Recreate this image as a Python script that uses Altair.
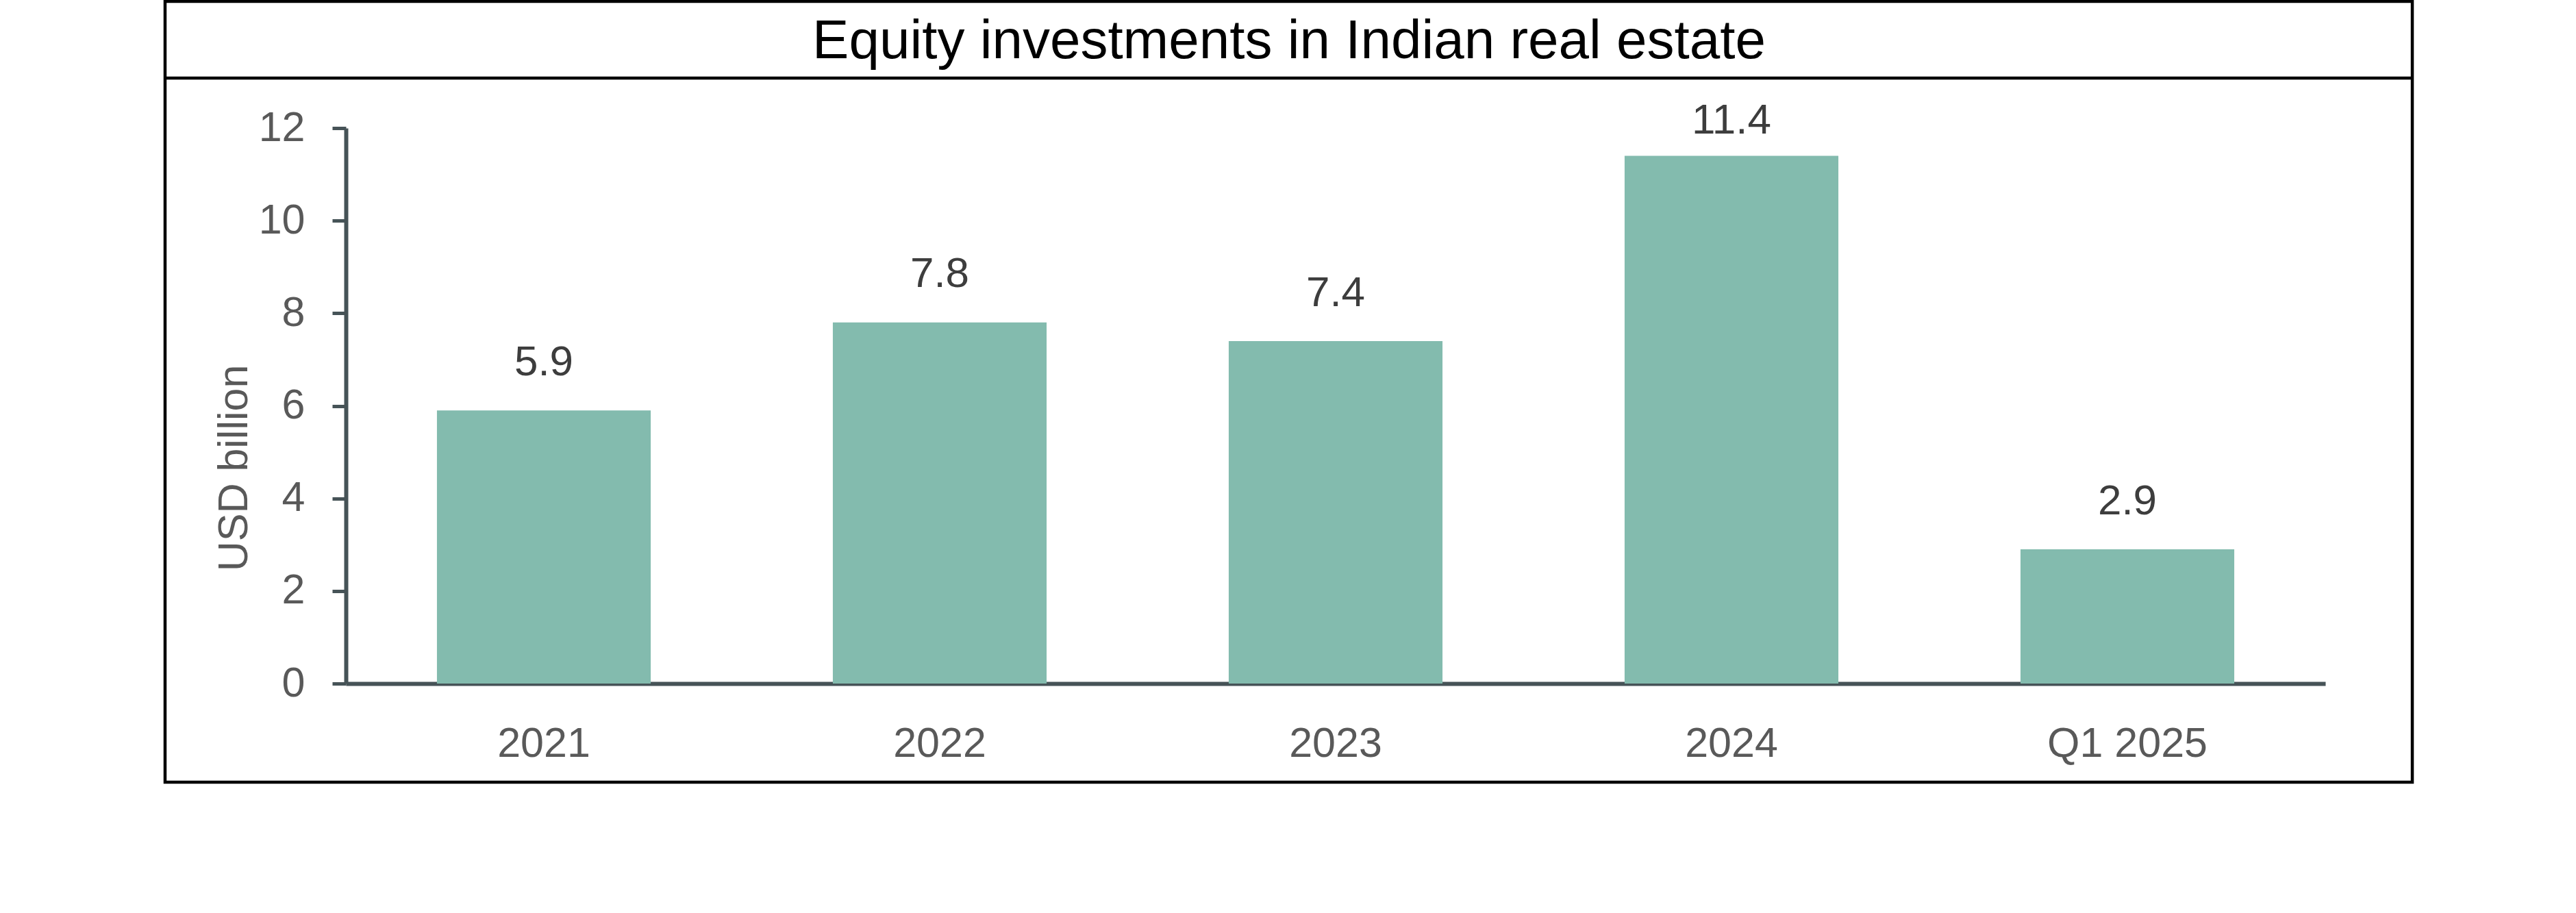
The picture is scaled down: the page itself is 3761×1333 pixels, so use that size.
import altair as alt
import pandas as pd

# ---- data ----
periods = ["2021", "2022", "2023", "2024", "Q1 2025"]
values = [5.9, 7.8, 7.4, 11.4, 2.9]
y_ticks = [0, 2, 4, 6, 8, 10, 12]
TITLE = "Equity investments in Indian real estate"
Y_TITLE = "USD billion"

df = pd.DataFrame({"period": periods, "value": values})

FONT = "Liberation Sans"
BAR = "#83BBAE"
AXIS = "#465357"
TICK_TXT = "#595959"
LBL_TXT = "#3d3d3d"

W, H = 2890, 811
PAD_L, PAD_T = 505, 187

x_enc = alt.X(
    "period:N",
    sort=periods,
    scale=alt.Scale(paddingInner=0.46, paddingOuter=0.23),
    axis=alt.Axis(
        title=None,
        ticks=False,
        tickSize=0,
        labelAngle=0,
        labelLimit=0,
        labelPadding=58,
        labelBaseline="top",
    ),
)

y_scale = alt.Scale(domain=[0, 12], nice=False)

bars = alt.Chart(df).mark_bar(color=BAR).encode(
    x=x_enc,
    y=alt.Y(
        "value:Q",
        scale=y_scale,
        axis=alt.Axis(
            title=Y_TITLE,
            values=y_ticks,
            format="d",
            grid=False,
            tickSize=20,
            labelPadding=40,
            titleAngle=270,
            titleBaseline="middle",
            titleAlign="center",
            titleX=-163,
            titleY=496,
        ),
    ),
)

labels = (
    alt.Chart(df)
    .transform_calculate(lab_pos="min(datum.value + 0.76, 11.88)")
    .mark_text(font=FONT, fontSize=62, color=LBL_TXT, baseline="alphabetic", align="center")
    .encode(
        x=alt.X("period:N", sort=periods),
        y=alt.Y("lab_pos:Q", scale=y_scale),
        text=alt.Text("value:Q", format=".1f"),
    )
)

one = alt.Data(values=[{"k": 1}])

frame = alt.Chart(one).mark_rect(filled=False, stroke="black", strokeWidth=4.5).encode(
    x=alt.value(241 - PAD_L),
    x2=alt.value(3522 - PAD_L),
    y=alt.value(2 - PAD_T),
    y2=alt.value(1142 - PAD_T),
)

sep = alt.Chart(one).mark_rule(color="black", strokeWidth=4.5).encode(
    x=alt.value(241 - PAD_L),
    x2=alt.value(3522 - PAD_L),
    y=alt.value(114 - PAD_T),
)

title = alt.Chart(one).mark_text(
    font=FONT, fontSize=80, color="black", align="center", baseline="alphabetic"
).encode(
    x=alt.value(1882 - PAD_L),
    y=alt.value(85 - PAD_T),
    text=alt.value(TITLE),
)

chart = (
    alt.layer(frame, sep, title, bars, labels)
    .properties(
        width=W,
        height=H,
        autosize=alt.AutoSizeParams(type="none"),
        padding={"left": PAD_L, "top": PAD_T, "right": 3761 - PAD_L - W, "bottom": 1333 - PAD_T - H},
        background="white",
    )
    .configure_view(stroke=None)
    .configure_axis(
        domainColor=AXIS,
        domainWidth=6,
        tickColor=AXIS,
        tickWidth=5,
        labelFont=FONT,
        labelFontSize=61,
        labelColor=TICK_TXT,
        titleFont=FONT,
        titleFontSize=61,
        titleFontWeight="normal",
        titleColor=TICK_TXT,
        grid=False,
    )
)

chart.save("out.html", embed_options={"renderer": "svg", "actions": False})
